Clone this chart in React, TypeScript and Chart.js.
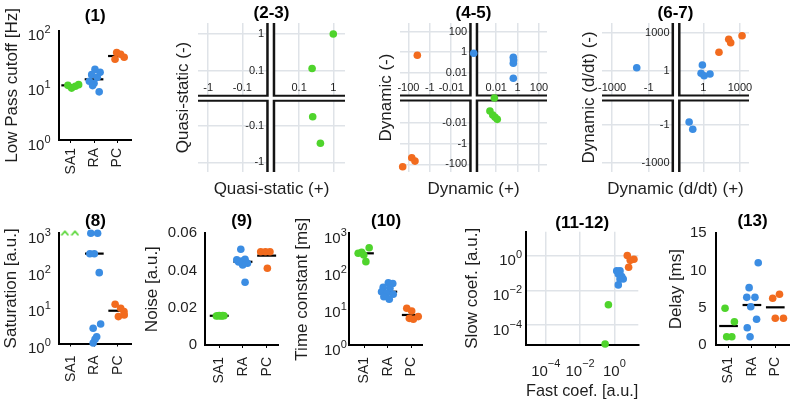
import React, { useEffect, useRef } from 'react';
import { Chart, registerables } from 'chart.js';

Chart.register(...registerables);

const FONT = '"Liberation Sans", Arial, Helvetica, sans-serif';
const GREEN = '#4fd42c';
const BLUE = '#3b8de3';
const ORANGE = '#f26b1e';
const GRID = '#dfe3e8';
const INK = '#1e1e1e';

Chart.defaults.font.family = FONT;
Chart.defaults.color = INK;

const categories = ['SA1', 'RA', 'PC'];

// ---------- (1) Low pass cutoff [Hz] ----------
const cutoffSA1 = [10.0, 8.9, 9.6, 10.3];
const cutoffSA1Jitter = [-0.12, 0.04, 0.2, 0.34];
const cutoffRA = [19.6, 17.3, 15.7, 14.0, 11.9, 10.9, 9.9, 7.6];
const cutoffRAJitter = [0.04, 0.26, -0.1, 0.14, -0.2, 0.0, -0.06, 0.22];
const cutoffPC = [40, 37, 30, 32.6];
const cutoffPCJitter = [-0.03, 0.14, -0.1, 0.29];
const cutoffMean = [10.0, 12.9, 34.4];
const cutoffTicks = [1, 10, 100];
const cutoffTickExps = ['0', '1', '2'];

// ---------- (2-3) Quasi-static ----------
const qsPlus = [1, 0.24, 0.25, 0.42];
const qsMinus = [1, 0.115, -0.057, -0.3];
const qsXLim = [-1.98, 2.2];
const qsYLim = [-1.82, 2.0];
const qsXTicks = [-1, -0.1, 0.1, 1];
const qsXTickLabels = ['-1', '-0.1', '0.1', '1'];
const qsYTicks = [1, 0.1, -0.1, -1];
const qsYTickLabels = ['1', '0.1', '-0.1', '-1'];

// ---------- (4-5) Dynamic ----------
const dynPlusSA1 = [0.0068, 0.0026, 0.0048, 0.0079, 0.0126];
const dynMinusSA1 = [0, -0.00065, -0.0016, -0.0026, -0.0042];
const dynPlusRA = [0, 0.4, 0.42, 0.4, 0.4];
const dynMinusRA = [0.78, 0.32, 0.17, 0.083, 0.0029];
const dynPlusPC = [-14.8, -345, -49, -24.5];
const dynMinusPC = [0.5, -166, -22, -47];
const dynXLim = [-616, 562];
const dynYLim = [-540, 676];
const dynXTicks = [-100, -1, -0.01, 0.01, 1, 100];
const dynXTickLabels = ['-100', '-1', '-0.01', '0.01', '1', '100'];
const dynYTicks = [100, 1, 0.01, -0.01, -1, -100];
const dynYTickLabels = ['100', '1', '0.01', '-0.01', '-1', '-100'];

// ---------- (6-7) Dynamic d/dt ----------
const ddtPlusRA = [-9.6, 0.83, 0.65, 1.15, 3.5, 0.068, 0.135];
const ddtMinusRA = [1.75, 2.9, 0.63, 0.4, 0.55, -0.55, -2.1];
const ddtPlusPC = [19, 120, 174, 1480];
const ddtMinusPC = [30, 330, 174, 630];
const ddtXLim = [-6760, 5500];
const ddtYLim = [-5500, 6600];
const ddtXTicks = [-1000, -1, 1, 1000];
const ddtXTickLabels = ['-1000', '-1', '1', '1000'];
const ddtYTicks = [1000, 1, -1, -1000];
const ddtYTickLabels = ['1000', '1', '-1', '-1000'];

// ---------- (8) Saturation [a.u.] ----------
const satSA1Clipped = [1000, 1000];
const satSA1Jitter = [-0.26, 0.17];
const satRA = [1000, 1000, 278, 278, 85, 3.4, 2.6, 1.53, 1.3, 1.03];
const satRAJitter = [-0.15, 0.14, -0.19, 0.0, 0.21, 0.27, -0.05, 0.1, 0.03, -0.05];
const satPC = [11.7, 9.1, 7.4, 5.4, 6.0];
const satPCJitter = [-0.11, 0.13, 0.27, 0.03, 0.28];
const satMean = [null, 280, 7.8];
const satTicks = [1, 10, 100, 1000];
const satTickExps = ['0', '1', '2', '3'];

// ---------- (9) Noise [a.u.] ----------
const noiseSA1 = [0.0156, 0.0157, 0.0158, 0.0157, 0.0156, 0.0158, 0.0157];
const noiseSA1Jitter = [-0.12, -0.06, 0.0, 0.05, 0.1, 0.15, 0.2];
const noiseRA = [0.0514, 0.0457, 0.0451, 0.046, 0.0439, 0.043, 0.0337, 0.0446];
const noiseRAJitter = [-0.09, -0.26, -0.05, 0.09, 0.19, -0.01, 0.09, -0.18];
const noisePC = [0.0501, 0.0501, 0.0501, 0.0412];
const noisePCJitter = [-0.25, -0.05, 0.14, 0.03];
const noiseMean = [0.0157, 0.0447, 0.048];
const noiseTicks = [0, 0.02, 0.04, 0.06];
const noiseTickLabels = ['0', '0.02', '0.04', '0.06'];

// ---------- (10) Time constant [ms] ----------
const tauSA1 = [290, 309, 410, 173, 261];
const tauSA1Jitter = [-0.27, -0.12, 0.2, 0.06, -0.03];
const tauRA = [47, 45, 35.5, 33.5, 27, 24.5, 23, 19.7, 17];
const tauRAJitter = [0.02, 0.21, -0.2, 0.09, -0.27, -0.05, 0.23, -0.17, 0.06];
const tauPC = [9.7, 8.2, 5.2, 4.9, 5.8];
const tauPCJitter = [-0.19, 0.02, -0.08, 0.09, 0.3];
const tauMean = [290, 27, 6.4];
const tauTicks = [1, 10, 100, 1000];
const tauTickExps = ['0', '1', '2', '3'];

// ---------- (11-12) Fast / slow coefficients ----------
const fastSA1 = [0.45, 0.29];
const slowSA1 = [0.0015, 0.000008];
const fastRA = [1.38, 2.14, 1.7, 2.7, 3.3, 2.14, 1.7];
const slowRA = [0.135, 0.135, 0.09, 0.063, 0.046, 0.046, 0.021];
const fastPC = [5.7, 13.9, 8.5, 6.8];
const slowPC = [1.04, 0.64, 0.55, 0.22];
const coefLim = [7e-6, 25];
const coefTicks = [0.0001, 0.01, 1];
const coefTickExps = ['−4', '−2', '0'];

// ---------- (13) Delay [ms] ----------
const delaySA1 = [4.93, 3.13, 1.11, 1.11];
const delaySA1Jitter = [-0.15, 0.25, -0.08, 0.14];
const delayRA = [11.05, 7.7, 6.4, 6.4, 5.14, 2.32, 3.45, 1.11];
const delayRAJitter = [0.27, -0.12, -0.22, 0.13, -0.05, -0.2, 0.2, -0.08];
const delayPC = [6.27, 6.81, 3.59, 3.59];
const delayPCJitter = [-0.11, 0.18, 0.0, 0.35];
const delayMean = [2.55, 5.37, 5.06];
const delayTicks = [0, 5, 10, 15];
const delayTickLabels = ['0', '5', '10', '15'];

// ---------------------------------------------------------------

type Rect = { x: number; y: number; w: number; h: number };
type Area = { l: number; t: number; r: number; b: number };

const symlog = (v: number, L0: number) =>
  v === 0 ? 0 : Math.sign(v) * Math.max(0, Math.log10(Math.abs(v)) - L0);

function frame(c: Rect, a: Area) {
  return {
    padding: { left: 0, top: a.t - c.y, right: c.x + c.w - a.r, bottom: 0 },
    yW: a.l - c.x,
    xH: c.y + c.h - a.b,
  };
}

const titlePlugin = {
  id: 'panelTitle',
  afterDraw(chart: any, _args: any, opts: any) {
    if (!opts || !opts.text) return;
    const { ctx, chartArea: a } = chart;
    ctx.save();
    ctx.font = `bold 17px ${FONT}`;
    ctx.fillStyle = '#000';
    ctx.textAlign = 'center';
    ctx.textBaseline = 'middle';
    ctx.fillText(opts.text, (a.left + a.right) / 2, opts.y);
    ctx.restore();
  },
};

// power-of-ten tick labels: "10" with a raised exponent
const supPlugin = {
  id: 'supLabels',
  afterDraw(chart: any, _args: any, o: any) {
    if (!o || !o.enabled) return;
    const { ctx, chartArea: a } = chart;
    const BASE = `15px ${FONT}`;
    const EXP = `11px ${FONT}`;
    ctx.save();
    ctx.fillStyle = INK;
    ctx.textBaseline = 'alphabetic';
    ctx.textAlign = 'left';
    ctx.font = BASE;
    const wBase = ctx.measureText('10').width;
    if (o.yVals) {
      o.yVals.forEach((v: number, i: number) => {
        const e = o.yExps[i];
        ctx.font = EXP;
        const wExp = ctx.measureText(e).width;
        const xEnd = a.left - o.yPad;
        const base = chart.scales.y.getPixelForValue(v) + 9.5;
        ctx.font = BASE;
        ctx.fillText('10', xEnd - wExp - wBase, base);
        ctx.font = EXP;
        ctx.fillText(e, xEnd - wExp, base - 7);
      });
    }
    if (o.xVals) {
      o.xVals.forEach((v: number, i: number) => {
        const e = o.xExps[i];
        ctx.font = EXP;
        const wExp = ctx.measureText(e).width;
        const cx = chart.scales.x.getPixelForValue(v);
        const left = cx - (wBase + wExp) / 2;
        const base = a.bottom + o.xOff;
        ctx.font = BASE;
        ctx.fillText('10', left, base);
        ctx.font = EXP;
        ctx.fillText(e, left + wBase, base - 8.5);
      });
    }
    ctx.restore();
  },
};

const quadPlugin = {
  id: 'quadAxes',
  beforeDatasetsDraw(chart: any, _args: any, opts: any) {
    if (!opts || !opts.enabled) return;
    const { ctx, chartArea: a } = chart;
    const xs = chart.scales.x;
    const ys = chart.scales.y;
    const x0 = xs.getPixelForValue(0);
    const y0 = ys.getPixelForValue(0);
    ctx.save();
    ctx.fillStyle = '#141414';
    ctx.fillRect(x0 - 4.5, a.top, 9, a.bottom - a.top);
    ctx.fillRect(a.left, y0 - 3.5, a.right - a.left, 7);
    ctx.fillStyle = '#ffffff';
    ctx.fillRect(x0 - 2, a.top, 4, a.bottom - a.top);
    ctx.fillRect(a.left, y0 - 1.5, a.right - a.left, 3);
    ctx.font = `11px ${FONT}`;
    ctx.fillStyle = INK;
    ctx.textBaseline = 'middle';
    ctx.textAlign = 'center';
    opts.xTicks.forEach((v: number, i: number) =>
      ctx.fillText(opts.xTickLabels[i], xs.getPixelForValue(symlog(v, opts.L0x)), y0 - 10.5)
    );
    ctx.textAlign = 'right';
    opts.yTicks.forEach((v: number, i: number) =>
      ctx.fillText(opts.yTickLabels[i], x0 - 6.5, ys.getPixelForValue(symlog(v, opts.L0y)))
    );
    ctx.restore();
  },
};

Chart.register(titlePlugin, supPlugin, quadPlugin);

function caretImage() {
  const c = document.createElement('canvas');
  c.width = 9;
  c.height = 7;
  const g = c.getContext('2d')!;
  g.strokeStyle = GREEN;
  g.lineWidth = 1.7;
  g.beginPath();
  g.moveTo(1, 5.5);
  g.lineTo(4.5, 1.5);
  g.lineTo(8, 5.5);
  g.stroke();
  return c;
}

const pointDs = (data: any[], color: string) => ({
  type: 'scatter',
  data,
  pointRadius: 3.8,
  pointHoverRadius: 3.8,
  pointBackgroundColor: color,
  pointBorderWidth: 0,
  showLine: false,
  clip: false,
});

const groupPoints = (values: number[], jitter: number[], cat: number) =>
  values.map((v, i) => ({ x: cat + jitter[i], y: v }));

const meanDs = (m: number, cat: number) => ({
  type: 'line',
  data: [
    { x: cat - 0.4, y: m },
    { x: cat + 0.4, y: m },
  ],
  borderColor: '#000',
  borderWidth: 2.2,
  pointRadius: 0,
  showLine: true,
  clip: false,
});

const baseOpts = (padding: any) => ({
  responsive: false,
  animation: false,
  events: [],
  layout: { padding },
});

function categoryConfig(p: any) {
  const f = frame(p.canvas, p.area);
  const useSup = !!p.yExps;
  const datasets: any[] = [];
  p.groups.forEach((g: any, ci: number) => {
    if (g.values.length) datasets.push(pointDs(groupPoints(g.values, g.jitter, ci + 1), g.color));
  });
  (p.extra || []).forEach((d: any) => datasets.push(d));
  p.means.forEach((m: number | null, ci: number) => {
    if (m !== null) datasets.push(meanDs(m, ci + 1));
  });
  return {
    type: 'scatter',
    data: { datasets },
    options: {
      ...baseOpts(f.padding),
      plugins: {
        legend: { display: false },
        tooltip: { enabled: false },
        panelTitle: { text: p.title, y: p.titleY },
        supLabels: useSup ? { enabled: true, yVals: p.yTicks, yExps: p.yExps, yPad: p.yPad } : { enabled: false },
      },
      scales: {
        x: {
          type: 'linear',
          min: p.xRange[0],
          max: p.xRange[1],
          afterBuildTicks: (s: any) => {
            s.ticks = [1, 2, 3].map((v) => ({ value: v }));
          },
          afterFit: (s: any) => {
            s.height = f.xH;
          },
          ticks: {
            callback: (v: number) => categories[Math.round(v) - 1] ?? '',
            minRotation: 90,
            maxRotation: 90,
            padding: p.labelPad,
            autoSkip: false,
            font: { family: FONT, size: 14 },
            color: INK,
          },
          grid: {
            display: true,
            drawOnChartArea: false,
            drawTicks: true,
            tickLength: 3,
            tickWidth: 1,
            tickColor: '#000',
          },
          border: { display: true, color: '#000', width: 2 },
        },
        y: {
          type: p.yType,
          min: p.yRange[0],
          max: p.yRange[1],
          afterBuildTicks: (s: any) => {
            s.ticks = p.yTicks.map((v: number) => ({ value: v }));
          },
          afterFit: (s: any) => {
            s.width = f.yW;
          },
          ticks: {
            display: !useSup,
            callback: (v: number) => {
              const i = p.yTicks.findIndex((t: number) => Math.abs(t - v) < 1e-9 * Math.max(1, Math.abs(t)));
              return i >= 0 && p.yTickLabels ? p.yTickLabels[i] : '';
            },
            padding: p.yPad,
            autoSkip: false,
            font: { family: FONT, size: 15 },
            color: INK,
          },
          grid: { display: false, drawTicks: false },
          border: { display: true, color: '#000', width: 2 },
          title: {
            display: true,
            text: p.yTitle,
            font: { family: FONT, size: 17 },
            color: INK,
            padding: 0,
          },
        },
      },
    },
  };
}

function quadConfig(p: any) {
  const f = frame(p.canvas, p.area);
  const datasets = p.groups.map((g: any) =>
    pointDs(
      g.x.map((xv: number, i: number) => ({ x: symlog(xv, p.L0x), y: symlog(g.y[i], p.L0y) })),
      g.color
    )
  );
  return {
    type: 'scatter',
    data: { datasets },
    options: {
      ...baseOpts(f.padding),
      plugins: {
        legend: { display: false },
        tooltip: { enabled: false },
        panelTitle: { text: p.title, y: p.titleY },
        quadAxes: {
          enabled: true,
          L0x: p.L0x,
          L0y: p.L0y,
          xTicks: p.xTicks,
          xTickLabels: p.xTickLabels,
          yTicks: p.yTicks,
          yTickLabels: p.yTickLabels,
        },
      },
      scales: {
        x: {
          type: 'linear',
          min: symlog(p.xLim[0], p.L0x),
          max: symlog(p.xLim[1], p.L0x),
          afterBuildTicks: (s: any) => {
            s.ticks = p.xTicks.map((v: number) => ({ value: symlog(v, p.L0x) }));
          },
          afterFit: (s: any) => {
            s.height = f.xH;
          },
          ticks: { display: false },
          grid: { color: GRID, lineWidth: 1.5, drawTicks: false },
          border: { display: false },
          title: { display: true, text: p.xTitle, font: { family: FONT, size: 17 }, color: INK, padding: 0 },
        },
        y: {
          type: 'linear',
          min: symlog(p.yLim[0], p.L0y),
          max: symlog(p.yLim[1], p.L0y),
          afterBuildTicks: (s: any) => {
            s.ticks = p.yTicks.map((v: number) => ({ value: symlog(v, p.L0y) }));
          },
          afterFit: (s: any) => {
            s.width = f.yW;
          },
          ticks: { display: false },
          grid: { color: GRID, lineWidth: 1.5, drawTicks: false },
          border: { display: false },
          title: { display: true, text: p.yTitle, font: { family: FONT, size: 17 }, color: INK, padding: 0 },
        },
      },
    },
  };
}

function coefConfig(p: any) {
  const f = frame(p.canvas, p.area);
  const ds = (xs: number[], ys: number[], color: string) =>
    pointDs(xs.map((x, i) => ({ x, y: ys[i] })), color);
  const axis = (title: string, isX: boolean) => ({
    type: 'logarithmic',
    min: coefLim[0],
    max: coefLim[1],
    afterBuildTicks: (s: any) => {
      s.ticks = coefTicks.map((v) => ({ value: v }));
    },
    afterFit: (s: any) => {
      if (isX) s.height = f.xH;
      else s.width = f.yW;
    },
    ticks: { display: false },
    grid: { color: GRID, lineWidth: 1.5, drawTicks: false },
    border: { display: true, color: '#000', width: 2 },
    title: { display: true, text: title, font: { family: FONT, size: 17 }, color: INK, padding: 0 },
  });
  return {
    type: 'scatter',
    data: {
      datasets: [ds(fastSA1, slowSA1, GREEN), ds(fastRA, slowRA, BLUE), ds(fastPC, slowPC, ORANGE)],
    },
    options: {
      ...baseOpts(f.padding),
      plugins: {
        legend: { display: false },
        tooltip: { enabled: false },
        panelTitle: { text: p.title, y: p.titleY },
        supLabels: {
          enabled: true,
          xVals: coefTicks,
          xExps: coefTickExps,
          xOff: 30.5,
          yVals: coefTicks,
          yExps: coefTickExps,
          yPad: 4,
        },
      },
      scales: { x: axis('Fast coef. [a.u.]', true), y: axis('Slow coef. [a.u.]', false) },
    },
  };
}

const RECTS: Rect[] = [
  { x: 2, y: 0, w: 150, h: 200 },
  { x: 173, y: 0, w: 182, h: 200 },
  { x: 376, y: 0, w: 182, h: 200 },
  { x: 579, y: 0, w: 185, h: 200 },
  { x: 1, y: 200, w: 150, h: 205 },
  { x: 142, y: 200, w: 155, h: 205 },
  { x: 292, y: 200, w: 150, h: 205 },
  { x: 462, y: 200, w: 195, h: 202 },
  { x: 666, y: 200, w: 140, h: 205 },
];

function makeConfigs() {
  const caretDs = {
    type: 'scatter',
    data: groupPoints(satSA1Clipped, satSA1Jitter, 1),
    pointStyle: caretImage(),
    pointRadius: 4,
    showLine: false,
    clip: false,
  };
  return [
    categoryConfig({
      canvas: RECTS[0],
      area: { l: 59, t: 30.7, r: 131.4, b: 140 },
      xRange: [0.5, 3.6],
      yType: 'logarithmic',
      yRange: [1, 100],
      yTicks: cutoffTicks,
      yExps: cutoffTickExps,
      yTitle: 'Low Pass cutoff [Hz]',
      title: '(1)',
      titleY: 16.5,
      labelPad: 5,
      yPad: 8.5,
      groups: [
        { values: cutoffSA1, jitter: cutoffSA1Jitter, color: GREEN },
        { values: cutoffRA, jitter: cutoffRAJitter, color: BLUE },
        { values: cutoffPC, jitter: cutoffPCJitter, color: ORANGE },
      ],
      means: cutoffMean,
    }),
    quadConfig({
      canvas: RECTS[1],
      area: { l: 198, t: 23, r: 345, b: 172 },
      L0x: -1.83,
      L0y: -1.75,
      xLim: qsXLim,
      yLim: qsYLim,
      xTicks: qsXTicks,
      xTickLabels: qsXTickLabels,
      yTicks: qsYTicks,
      yTickLabels: qsYTickLabels,
      xTitle: 'Quasi-static (+)',
      yTitle: 'Quasi-static (-)',
      title: '(2-3)',
      titleY: 13.3,
      groups: [{ x: qsPlus, y: qsMinus, color: GREEN }],
    }),
    quadConfig({
      canvas: RECTS[2],
      area: { l: 400, t: 23, r: 547, b: 172 },
      L0x: -4.1,
      L0y: -4.45,
      xLim: dynXLim,
      yLim: dynYLim,
      xTicks: dynXTicks,
      xTickLabels: dynXTickLabels,
      yTicks: dynYTicks,
      yTickLabels: dynYTickLabels,
      xTitle: 'Dynamic (+)',
      yTitle: 'Dynamic (-)',
      title: '(4-5)',
      titleY: 13.3,
      groups: [
        { x: dynPlusSA1, y: dynMinusSA1, color: GREEN },
        { x: dynPlusRA, y: dynMinusRA, color: BLUE },
        { x: dynPlusPC, y: dynMinusPC, color: ORANGE },
      ],
    }),
    quadConfig({
      canvas: RECTS[3],
      area: { l: 602, t: 23, r: 749, b: 172 },
      L0x: -2.24,
      L0y: -2.18,
      xLim: ddtXLim,
      yLim: ddtYLim,
      xTicks: ddtXTicks,
      xTickLabels: ddtXTickLabels,
      yTicks: ddtYTicks,
      yTickLabels: ddtYTickLabels,
      xTitle: 'Dynamic (d/dt) (+)',
      yTitle: 'Dynamic (d/dt) (-)',
      title: '(6-7)',
      titleY: 13.3,
      groups: [
        { x: ddtPlusRA, y: ddtMinusRA, color: BLUE },
        { x: ddtPlusPC, y: ddtMinusPC, color: ORANGE },
      ],
    }),
    categoryConfig({
      canvas: RECTS[4],
      area: { l: 59.3, t: 233.3, r: 131.7, b: 343.5 },
      xRange: [0.5, 3.6],
      yType: 'logarithmic',
      yRange: [1, 1000],
      yTicks: satTicks,
      yExps: satTickExps,
      yTitle: 'Saturation [a.u.]',
      title: '(8)',
      titleY: 21,
      labelPad: 9,
      yPad: 8.5,
      groups: [
        { values: [], jitter: [], color: GREEN },
        { values: satRA, jitter: satRAJitter, color: BLUE },
        { values: satPC, jitter: satPCJitter, color: ORANGE },
      ],
      extra: [caretDs],
      means: satMean,
    }),
    categoryConfig({
      canvas: RECTS[5],
      area: { l: 205, t: 233.3, r: 278.5, b: 345 },
      xRange: [0.4, 3.5],
      yType: 'linear',
      yRange: [0, 0.06],
      yTicks: noiseTicks,
      yTickLabels: noiseTickLabels,
      yTitle: 'Noise [a.u.]',
      title: '(9)',
      titleY: 21.7,
      labelPad: 9,
      yPad: 8,
      groups: [
        { values: noiseSA1, jitter: noiseSA1Jitter, color: GREEN },
        { values: noiseRA, jitter: noiseRAJitter, color: BLUE },
        { values: noisePC, jitter: noisePCJitter, color: ORANGE },
      ],
      means: noiseMean,
    }),
    categoryConfig({
      canvas: RECTS[6],
      area: { l: 349.3, t: 233.3, r: 422.9, b: 345 },
      xRange: [0.35, 3.5],
      yType: 'logarithmic',
      yRange: [1, 1000],
      yTicks: tauTicks,
      yExps: tauTickExps,
      yTitle: 'Time constant [ms]',
      title: '(10)',
      titleY: 21.7,
      labelPad: 9,
      yPad: 2.5,
      groups: [
        { values: tauSA1, jitter: tauSA1Jitter, color: GREEN },
        { values: tauRA, jitter: tauRAJitter, color: BLUE },
        { values: tauPC, jitter: tauPCJitter, color: ORANGE },
      ],
      means: tauMean,
    }),
    coefConfig({
      canvas: RECTS[7],
      area: { l: 526, t: 231.7, r: 638.3, b: 345 },
      title: '(11-12)',
      titleY: 23.3,
    }),
    categoryConfig({
      canvas: RECTS[8],
      area: { l: 715.7, t: 233.3, r: 789.3, b: 345 },
      xRange: [0.45, 3.6],
      yType: 'linear',
      yRange: [0, 15],
      yTicks: delayTicks,
      yTickLabels: delayTickLabels,
      yTitle: 'Delay [ms]',
      title: '(13)',
      titleY: 21.7,
      labelPad: 9,
      yPad: 9,
      groups: [
        { values: delaySA1, jitter: delaySA1Jitter, color: GREEN },
        { values: delayRA, jitter: delayRAJitter, color: BLUE },
        { values: delayPC, jitter: delayPCJitter, color: ORANGE },
      ],
      means: delayMean,
    }),
  ];
}

export default function App() {
  const refs = useRef<(HTMLCanvasElement | null)[]>([]);
  useEffect(() => {
    const configs = makeConfigs();
    const charts = configs.map((cfg, i) => new Chart(refs.current[i] as HTMLCanvasElement, cfg as any));
    return () => charts.forEach((c) => c.destroy());
  }, []);
  return (
    <div
      style={{
        position: 'fixed',
        left: 0,
        top: 0,
        width: 790,
        height: 405,
        overflow: 'hidden',
        background: '#fff',
      }}
    >
      {RECTS.map((r, i) => (
        <canvas
          key={i}
          ref={(el) => {
            refs.current[i] = el;
          }}
          width={r.w}
          height={r.h}
          style={{ position: 'absolute', left: r.x, top: r.y, width: r.w, height: r.h }}
        />
      ))}
    </div>
  );
}
